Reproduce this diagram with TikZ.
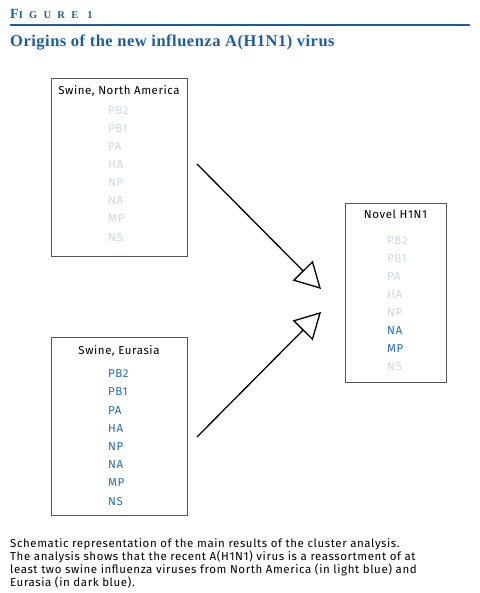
\documentclass[tikz,border=0pt]{standalone}
\usepackage{fontspec}
\setmainfont{Fira Sans}[LetterSpace=5]
\newfontfamily\titlefont{Liberation Serif}
\usetikzlibrary{arrows.meta}
\definecolor{titleblue}{HTML}{1B5E9E}
\definecolor{darkgene}{HTML}{1F6DB2}
\definecolor{lightgene}{HTML}{C9D8EA}
\definecolor{boxgray}{HTML}{555555}
\tikzset{
  virusbox/.style={draw=boxgray, line width=1pt, rectangle, inner sep=0pt, anchor=north west},
  boxtitle/.style={font=\fontsize{11.5}{13}\selectfont, inner sep=0pt, anchor=base, text=black},
  gene/.style={font=\fontsize{11.5}{13}\selectfont, inner sep=0pt, anchor=base west},
  lg/.style={gene, text=lightgene},
  dg/.style={gene, text=darkgene},
  flow/.style={line width=1.3pt, -{Triangle[open, length=26pt, width=28pt, line width=1.3pt]}},
}
\begin{document}
\begin{tikzpicture}[x=1pt,y=-1pt]
\useasboundingbox (0,0) rectangle (479,593);
% header
\node[inner sep=0pt, anchor=base west, text=titleblue] (fig) at (10,19)
  {\titlefont\bfseries\addfontfeatures{LetterSpace=60}\fontsize{14}{15}\selectfont F\fontsize{10.5}{12}\selectfont IGURE 1};
\draw[titleblue, line width=1.4pt] (10,25) -- (470,25);
\node[inner sep=0pt, anchor=base west, text=titleblue] (title) at (10,47)
  {\titlefont\bfseries\addfontfeatures{LetterSpace=3}\fontsize{16.5}{18}\selectfont Origins of the new influenza A(H1N1) virus};
% boxes
\node[virusbox, minimum width=136pt, minimum height=178pt] (na) at (51,78) {};
\node[virusbox, minimum width=136pt, minimum height=178pt] (eu) at (51,337) {};
\node[virusbox, minimum width=101pt, minimum height=179pt] (nov) at (345,203) {};
\node[boxtitle] (nat) at (119,95) {Swine, North America};
\node[boxtitle] (eut) at (119,354) {Swine, Eurasia};
\node[boxtitle] (novt) at (395.5,219) {Novel H1N1};
% genes North America
\node[lg] (na1) at (108,115) {PB2};
\node[lg] (na2) at (108,133) {PB1};
\node[lg] (na3) at (108,151) {PA};
\node[lg] (na4) at (108,169) {HA};
\node[lg] (na5) at (108,187) {NP};
\node[lg] (na6) at (108,205) {NA};
\node[lg] (na7) at (108,223) {MP};
\node[lg] (na8) at (108,241) {NS};
% genes Eurasia
\node[dg] (eu1) at (108,377) {PB2};
\node[dg] (eu2) at (108,395) {PB1};
\node[dg] (eu3) at (108,414) {PA};
\node[dg] (eu4) at (108,432) {HA};
\node[dg] (eu5) at (108,450) {NP};
\node[dg] (eu6) at (108,468) {NA};
\node[dg] (eu7) at (108,486) {MP};
\node[dg] (eu8) at (108,505) {NS};
% genes novel
\node[lg] (nv1) at (387,244) {PB2};
\node[lg] (nv2) at (387,262) {PB1};
\node[lg] (nv3) at (387,280) {PA};
\node[lg] (nv4) at (387,298) {HA};
\node[lg] (nv5) at (387,316) {NP};
\node[dg] (nv6) at (387,334) {NA};
\node[dg] (nv7) at (387,352) {MP};
\node[lg] (nv8) at (387,370) {NS};
% arrows
\coordinate (a1s) at (197,164);
\coordinate (a1e) at (321,289);
\coordinate (a2s) at (197,437);
\coordinate (a2e) at (321,312);
\draw[flow] (a1s) -- (a1e);
\draw[flow] (a2s) -- (a2e);
% caption
\node[inner sep=0pt, anchor=north west, align=left, text=black,
      font=\fontsize{11.5}{13}\selectfont] (cap) at (10,538)
  {Schematic representation of the main results of the cluster analysis.\\
   The analysis shows that the recent A(H1N1) virus is a reassortment of at\\
   least two swine influenza viruses from North America (in light blue) and\\
   Eurasia (in dark blue).};
\end{tikzpicture}
\end{document}
